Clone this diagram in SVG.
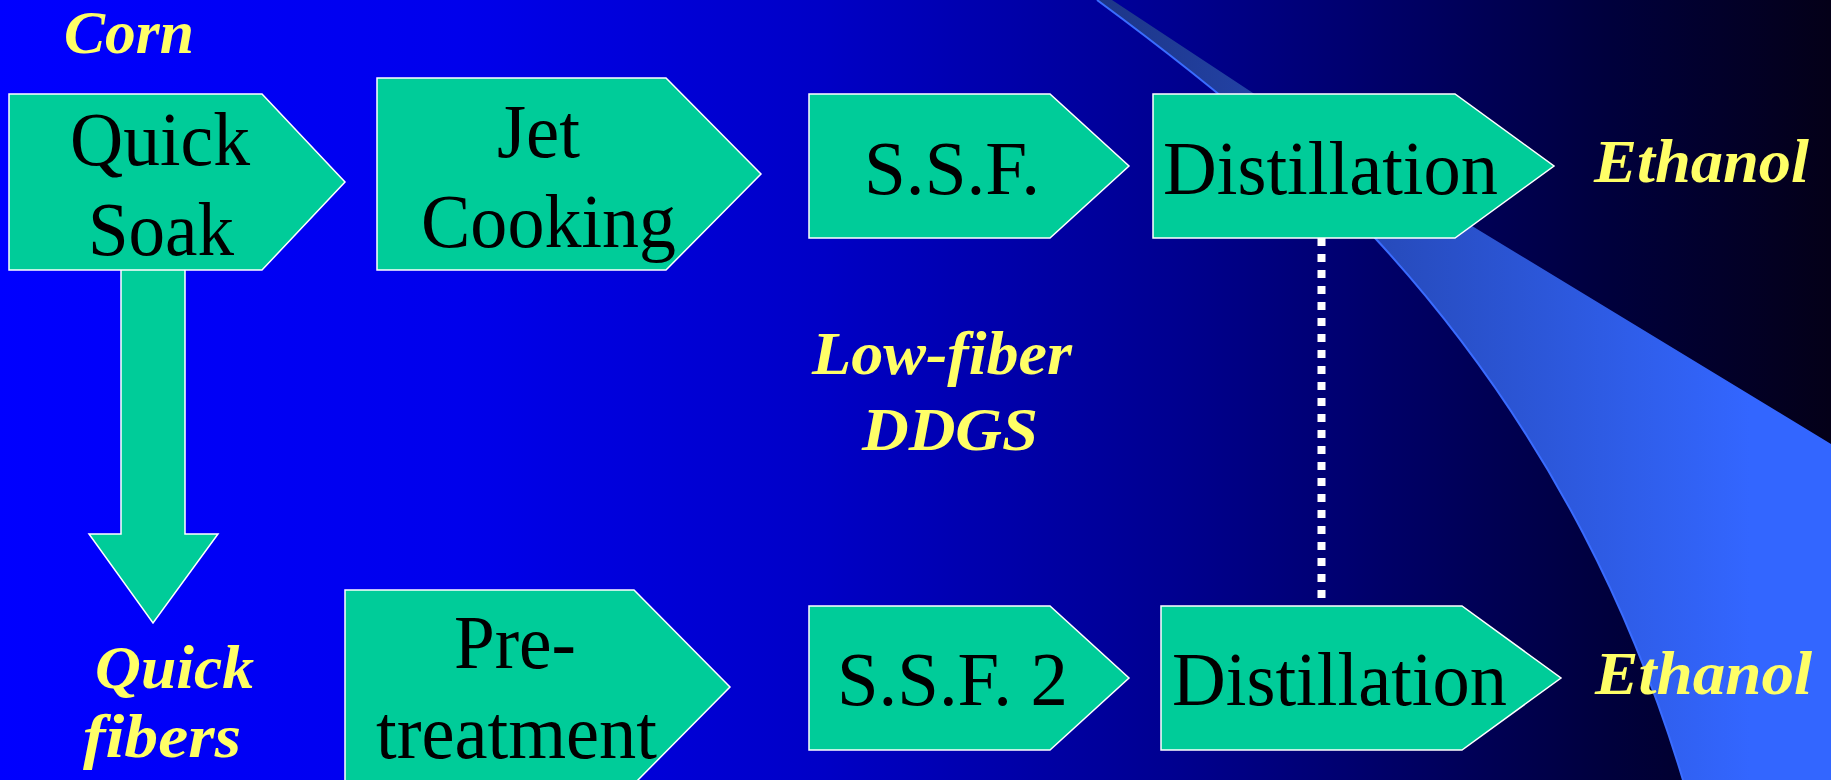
<svg xmlns="http://www.w3.org/2000/svg" width="1831" height="780" viewBox="0 0 1831 780">
<defs>
<linearGradient id="bg" x1="0" y1="0" x2="1831" y2="0" gradientUnits="userSpaceOnUse">
<stop offset="0" stop-color="#0000FF"/>
<stop offset="0.25" stop-color="#0000EC"/>
<stop offset="0.45" stop-color="#0000C6"/>
<stop offset="0.64" stop-color="#000090"/>
<stop offset="0.74" stop-color="#00006E"/>
<stop offset="0.88" stop-color="#00003C"/>
<stop offset="1" stop-color="#040018"/>
</linearGradient>
<linearGradient id="sw" x1="1100" y1="0" x2="1750" y2="0" gradientUnits="userSpaceOnUse">
<stop offset="0" stop-color="#1D3688"/>
<stop offset="1" stop-color="#3366FF"/>
</linearGradient>
<style>
.box{fill:#00CC99;stroke:#FFFFFF;stroke-width:1.5;stroke-linejoin:miter}
.lbl{font-family:"Liberation Serif","Times New Roman",serif;font-size:76px;fill:#000000}
.yl{font-family:"Liberation Serif","Times New Roman",serif;font-size:62px;font-weight:bold;font-style:italic;fill:#FFFF66}
</style>
</defs>
<rect x="0" y="0" width="1831" height="780" fill="url(#bg)"/>
<g id="swoosh">
<path d="M1097,0 C1204.5,79.3 1301.7,158.7 1375,238 C1465.8,336.3 1531.5,434.7 1583,533 C1626.1,615.3 1658.3,697.7 1683,780 L1831,780 L1831,444 L1253,93 L1112,0 Z" fill="url(#sw)"/>
<path d="M1097,0 C1204.5,79.3 1301.7,158.7 1375,238 C1465.8,336.3 1531.5,434.7 1583,533 C1626.1,615.3 1658.3,697.7 1683,780" fill="none" stroke="#3A6CFF" stroke-width="2"/>
</g>
<g id="connectors">
<polygon id="down-arrow" class="box" points="121,260 185,260 185,534 218,534 153,623 89,534 121,534"/>
<line x1="1321.5" y1="238" x2="1321.5" y2="598" stroke="#FFFFFF" stroke-width="8" stroke-dasharray="8 8"/>
</g>
<g id="quick-soak">
<polygon class="box" points="9,94 262,94 345,182 262,270 9,270"/>
<text class="lbl" x="160" y="165" text-anchor="middle" textLength="180" lengthAdjust="spacingAndGlyphs">Quick</text>
<text class="lbl" x="161" y="255" text-anchor="middle" textLength="146" lengthAdjust="spacingAndGlyphs">Soak</text>
</g>
<g id="jet-cooking">
<polygon class="box" points="377,78 666,78 761,174 666,270 377,270"/>
<text class="lbl" x="538.5" y="157" text-anchor="middle" textLength="83" lengthAdjust="spacingAndGlyphs">Jet</text>
<text class="lbl" x="548.5" y="247" text-anchor="middle" textLength="255" lengthAdjust="spacingAndGlyphs">Cooking</text>
</g>
<g id="ssf">
<polygon class="box" points="809,94 1050,94 1129,166 1050,238 809,238"/>
<text class="lbl" x="952" y="194" text-anchor="middle" textLength="176" lengthAdjust="spacingAndGlyphs">S.S.F.</text>
</g>
<g id="distillation-1">
<polygon class="box" points="1153,94 1455,94 1554,166 1455,238 1153,238"/>
<text class="lbl" x="1330.5" y="194" text-anchor="middle" textLength="335" lengthAdjust="spacingAndGlyphs">Distillation</text>
</g>
<g id="pretreatment">
<polygon class="box" points="345,590 634,590 730,687 634,784 345,784"/>
<text class="lbl" x="515" y="668" text-anchor="middle" textLength="122" lengthAdjust="spacingAndGlyphs">Pre-</text>
<text class="lbl" x="516.5" y="758" text-anchor="middle" textLength="281" lengthAdjust="spacingAndGlyphs">treatment</text>
</g>
<g id="ssf-2">
<polygon class="box" points="809,606 1050,606 1129,678 1050,750 809,750"/>
<text class="lbl" x="952.5" y="705" text-anchor="middle" textLength="231" lengthAdjust="spacingAndGlyphs">S.S.F. 2</text>
</g>
<g id="distillation-2">
<polygon class="box" points="1161,606 1462,606 1561,678 1462,750 1161,750"/>
<text class="lbl" x="1339.5" y="705" text-anchor="middle" textLength="335" lengthAdjust="spacingAndGlyphs">Distillation</text>
</g>
<g id="labels">
<text class="yl" x="64" y="53" textLength="130" lengthAdjust="spacingAndGlyphs">Corn</text>
<text class="yl" x="1594" y="182" textLength="215" lengthAdjust="spacingAndGlyphs">Ethanol</text>
<text class="yl" x="1595" y="694" textLength="217" lengthAdjust="spacingAndGlyphs">Ethanol</text>
<text class="yl" x="942" y="374" text-anchor="middle" textLength="260" lengthAdjust="spacingAndGlyphs">Low-fiber</text>
<text class="yl" x="950" y="450" text-anchor="middle" textLength="176" lengthAdjust="spacingAndGlyphs">DDGS</text>
<text class="yl" x="174.5" y="688" text-anchor="middle" textLength="159" lengthAdjust="spacingAndGlyphs">Quick</text>
<text class="yl" x="162" y="757" text-anchor="middle" textLength="158" lengthAdjust="spacingAndGlyphs">fibers</text>
</g>
</svg>
